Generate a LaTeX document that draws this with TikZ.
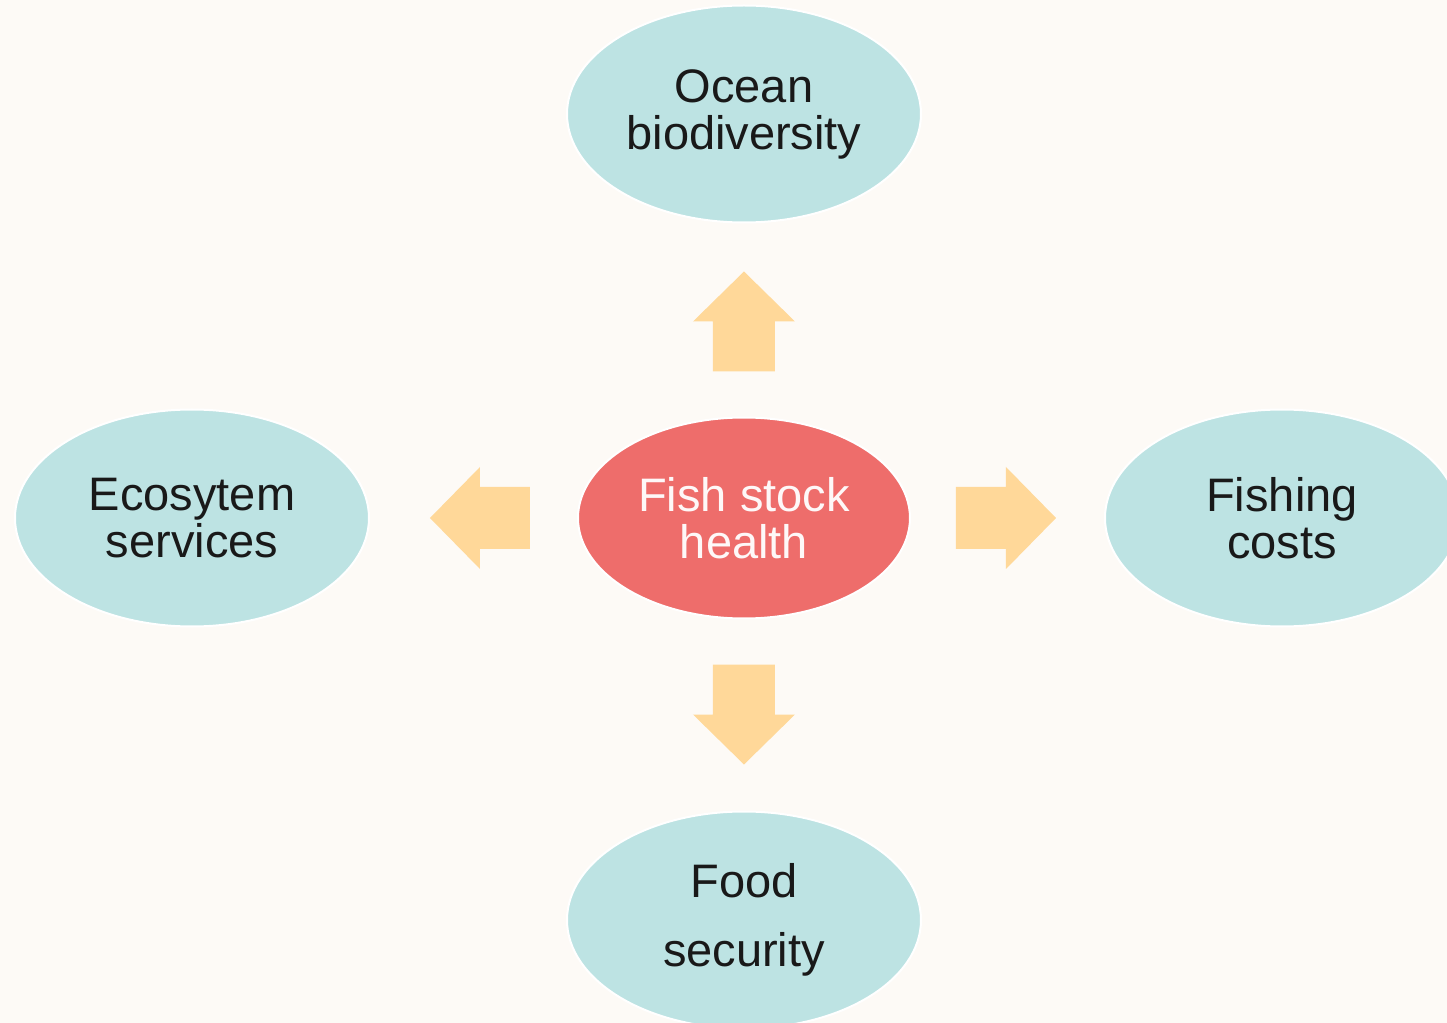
\documentclass[tikz,border=0pt]{standalone}
\usepackage{fontspec}
\setmainfont{Liberation Sans}
\usepackage{xcolor}
\usepackage{tikz}
\usetikzlibrary{shapes.geometric,calc}
\definecolor{PaperBg}{HTML}{FDFAF6}
\definecolor{SeaTeal}{HTML}{BDE3E3}
\definecolor{CoralRed}{HTML}{EE6D6B}
\definecolor{SandArrow}{HTML}{FFD899}

\tikzset{
  pics/blockarrow/.style={code={
    \fill[SandArrow] (0,-31) -- (50,-31) -- (50,-51) -- (100,0) -- (50,51) -- (50,31) -- (0,31) -- cycle;
  }}
}

\begin{document}
\begin{tikzpicture}[
  x=0.5pt,y=0.5pt,
  every node/.style={font=\fontsize{23.5}{23.5}\selectfont},
  topic/.style={ellipse,draw=white,line width=1pt,fill=SeaTeal,inner sep=0pt,
    minimum width=177pt,minimum height=108.5pt,align=center,text=black!90},
  hub/.style={ellipse,draw=white,line width=1pt,fill=CoralRed,inner sep=0pt,
    minimum width=166pt,minimum height=100.5pt,align=center,text=white!95!CoralRed}
]
\fill[PaperBg] (-744,-505) rectangle (703,518);
\useasboundingbox (-744,-505) rectangle (703,518);

\node[hub] (fish) at (0,0) {Fish stock\\health};
\node[topic] (ocean) at (0,404) {Ocean\\biodiversity};
\node[topic] (eco) at (-552,0) {Ecosytem\\services};
\node[topic] (cost) at (538,0) {Fishing\\costs};
\node[topic] (food) at (0,-402) {Food\\[11pt]security};

% block arrows pointing away from the hub
\pic[rotate=90] at ($(fish.north)+(0,45)$) {blockarrow};
\pic[rotate=180] at ($(fish.west)+(-47,0)$) {blockarrow};
\pic at ($(fish.east)+(45,0)$) {blockarrow};
\pic[rotate=-90] at ($(fish.south)+(0,-45)$) {blockarrow};
\end{tikzpicture}
\end{document}
